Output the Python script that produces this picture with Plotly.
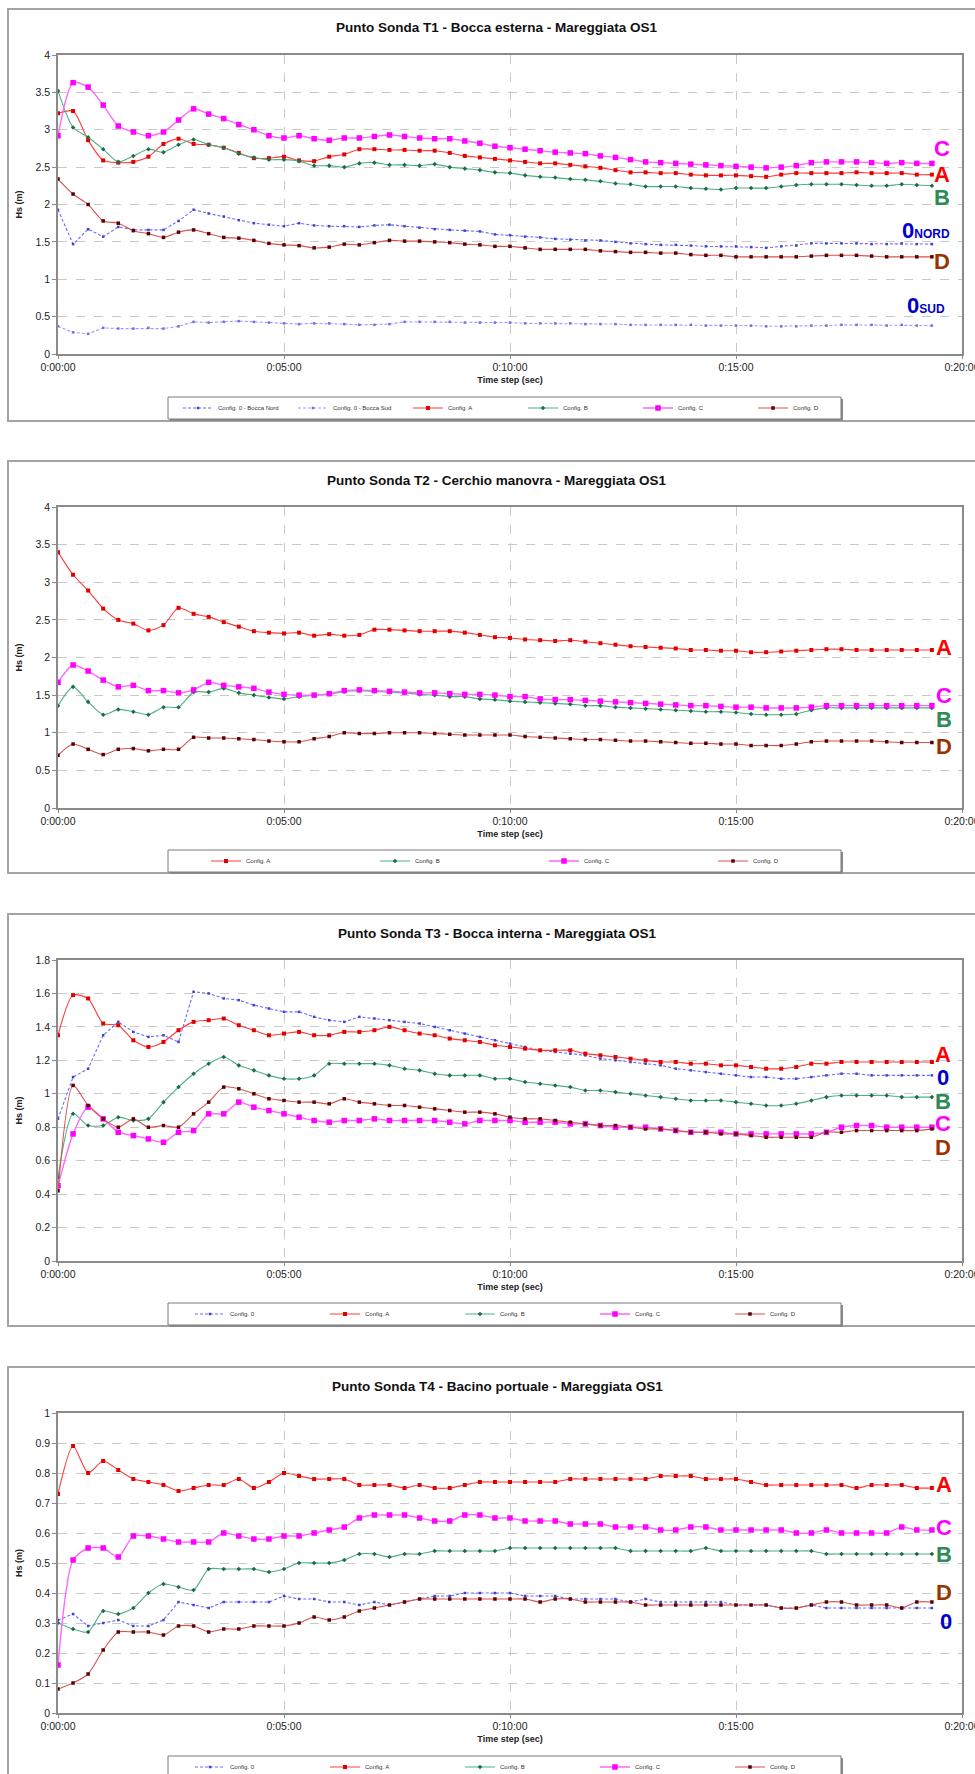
import plotly.graph_objects as go

W, H = 975, 1774

# Time steps (seconds), one sample every 20 s
time_s = list(range(0, 1180, 20))
x_tickvals = [0, 300, 600, 900, 1200]
x_ticktext = ["0:00:00", "0:05:00", "0:10:00", "0:15:00", "0:20:00"]

# ---- T1 - Bocca esterna ----
t1_0nord = [1.93, 1.47, 1.67, 1.57, 1.70, 1.66, 1.66, 1.66, 1.78, 1.93, 1.88, 1.84, 1.79, 1.75, 1.73, 1.71,
            1.75, 1.72, 1.71, 1.71, 1.70, 1.72, 1.73, 1.71, 1.69, 1.67, 1.66, 1.65, 1.64, 1.60, 1.59,
            1.57, 1.56, 1.54, 1.53, 1.52, 1.52, 1.50, 1.48, 1.47, 1.46, 1.46, 1.45, 1.44, 1.44, 1.44,
            1.43, 1.42, 1.44, 1.45, 1.48, 1.48, 1.48, 1.48, 1.47, 1.47, 1.48, 1.47, 1.47]
t1_0sud = [0.37, 0.29, 0.27, 0.35, 0.34, 0.34, 0.35, 0.34, 0.37, 0.43, 0.42, 0.43, 0.44, 0.43, 0.42, 0.41,
           0.40, 0.41, 0.41, 0.40, 0.39, 0.39, 0.40, 0.43, 0.43, 0.43, 0.43, 0.42, 0.42, 0.42, 0.42,
           0.41, 0.41, 0.41, 0.41, 0.40, 0.40, 0.40, 0.39, 0.39, 0.39, 0.39, 0.39, 0.38, 0.38, 0.38,
           0.38, 0.37, 0.37, 0.37, 0.38, 0.38, 0.39, 0.39, 0.39, 0.38, 0.39, 0.38, 0.38]
t1_A = [3.22, 3.25, 2.86, 2.59, 2.56, 2.57, 2.64, 2.81, 2.88, 2.81, 2.80, 2.76, 2.69, 2.62, 2.62, 2.64,
        2.59, 2.58, 2.64, 2.67, 2.74, 2.74, 2.73, 2.73, 2.72, 2.72, 2.69, 2.65, 2.63, 2.61, 2.59,
        2.57, 2.55, 2.55, 2.53, 2.51, 2.49, 2.46, 2.43, 2.43, 2.42, 2.42, 2.40, 2.39, 2.39, 2.39,
        2.38, 2.37, 2.40, 2.42, 2.42, 2.42, 2.42, 2.43, 2.42, 2.42, 2.42, 2.40, 2.40]
t1_B = [3.52, 3.03, 2.90, 2.74, 2.57, 2.65, 2.74, 2.70, 2.80, 2.87, 2.80, 2.76, 2.68, 2.63, 2.60, 2.60,
        2.58, 2.52, 2.52, 2.50, 2.55, 2.56, 2.53, 2.53, 2.52, 2.54, 2.50, 2.48, 2.46, 2.43, 2.42,
        2.39, 2.37, 2.36, 2.34, 2.33, 2.31, 2.28, 2.27, 2.24, 2.24, 2.24, 2.22, 2.21, 2.20, 2.22,
        2.22, 2.22, 2.24, 2.26, 2.27, 2.27, 2.27, 2.26, 2.25, 2.25, 2.27, 2.26, 2.25]
t1_C = [2.92, 3.63, 3.57, 3.33, 3.05, 2.97, 2.92, 2.97, 3.13, 3.28, 3.21, 3.15, 3.07, 3.00, 2.92, 2.89,
        2.92, 2.88, 2.86, 2.89, 2.89, 2.91, 2.93, 2.91, 2.89, 2.88, 2.88, 2.85, 2.82, 2.78, 2.76,
        2.74, 2.72, 2.70, 2.69, 2.68, 2.65, 2.63, 2.60, 2.57, 2.56, 2.55, 2.54, 2.53, 2.52, 2.51,
        2.50, 2.49, 2.50, 2.52, 2.56, 2.57, 2.57, 2.57, 2.56, 2.55, 2.56, 2.55, 2.55]
t1_D = [2.34, 2.14, 2.00, 1.78, 1.75, 1.65, 1.61, 1.56, 1.63, 1.66, 1.61, 1.56, 1.55, 1.52, 1.48, 1.46,
        1.45, 1.42, 1.43, 1.47, 1.46, 1.49, 1.52, 1.51, 1.51, 1.50, 1.49, 1.47, 1.46, 1.44, 1.44,
        1.42, 1.40, 1.40, 1.40, 1.40, 1.38, 1.37, 1.36, 1.36, 1.35, 1.35, 1.33, 1.32, 1.32, 1.30,
        1.30, 1.30, 1.30, 1.30, 1.31, 1.32, 1.32, 1.32, 1.31, 1.30, 1.30, 1.30, 1.30]

# ---- T2 - Cerchio manovra ----
t2_A = [3.40, 3.10, 2.89, 2.65, 2.50, 2.45, 2.36, 2.43, 2.66, 2.58, 2.54, 2.47, 2.41, 2.35, 2.33, 2.32,
        2.33, 2.29, 2.31, 2.29, 2.30, 2.37, 2.37, 2.36, 2.35, 2.35, 2.35, 2.33, 2.30, 2.27, 2.26,
        2.24, 2.23, 2.22, 2.23, 2.21, 2.19, 2.17, 2.15, 2.14, 2.13, 2.12, 2.10, 2.10, 2.09, 2.09,
        2.07, 2.07, 2.08, 2.09, 2.10, 2.11, 2.11, 2.10, 2.10, 2.10, 2.10, 2.10, 2.10]
t2_B = [1.36, 1.61, 1.41, 1.24, 1.31, 1.28, 1.24, 1.34, 1.34, 1.54, 1.54, 1.59, 1.53, 1.50, 1.47, 1.45,
        1.48, 1.50, 1.51, 1.55, 1.56, 1.55, 1.54, 1.53, 1.51, 1.50, 1.48, 1.48, 1.45, 1.44, 1.42,
        1.41, 1.40, 1.39, 1.38, 1.36, 1.36, 1.34, 1.33, 1.32, 1.31, 1.30, 1.29, 1.28, 1.28, 1.27,
        1.25, 1.24, 1.24, 1.25, 1.30, 1.33, 1.33, 1.33, 1.33, 1.33, 1.33, 1.33, 1.33]
t2_C = [1.67, 1.90, 1.82, 1.70, 1.61, 1.63, 1.56, 1.56, 1.53, 1.57, 1.67, 1.63, 1.61, 1.59, 1.54, 1.51,
        1.50, 1.50, 1.52, 1.56, 1.57, 1.56, 1.55, 1.54, 1.53, 1.53, 1.52, 1.51, 1.51, 1.50, 1.48,
        1.48, 1.45, 1.44, 1.44, 1.43, 1.42, 1.41, 1.40, 1.39, 1.38, 1.37, 1.36, 1.36, 1.35, 1.34,
        1.34, 1.33, 1.33, 1.33, 1.34, 1.36, 1.36, 1.36, 1.36, 1.36, 1.36, 1.36, 1.36]
t2_D = [0.70, 0.85, 0.78, 0.71, 0.78, 0.79, 0.76, 0.78, 0.78, 0.94, 0.93, 0.93, 0.92, 0.91, 0.89, 0.88,
        0.88, 0.92, 0.95, 1.00, 0.99, 0.99, 1.00, 1.00, 1.00, 0.99, 0.98, 0.97, 0.97, 0.97, 0.97,
        0.95, 0.94, 0.93, 0.92, 0.91, 0.91, 0.90, 0.89, 0.89, 0.88, 0.87, 0.86, 0.86, 0.85, 0.85,
        0.83, 0.83, 0.83, 0.85, 0.88, 0.89, 0.89, 0.89, 0.89, 0.88, 0.87, 0.87, 0.87]

# ---- T3 - Bocca interna ----
t3_0 = [0.85, 1.10, 1.15, 1.35, 1.43, 1.37, 1.34, 1.35, 1.31, 1.61, 1.60, 1.57, 1.56, 1.53, 1.51, 1.49,
        1.49, 1.46, 1.44, 1.43, 1.46, 1.45, 1.44, 1.43, 1.42, 1.40, 1.38, 1.36, 1.34, 1.32, 1.30,
        1.28, 1.26, 1.25, 1.24, 1.23, 1.21, 1.20, 1.19, 1.18, 1.17, 1.15, 1.14, 1.13, 1.12, 1.11,
        1.10, 1.10, 1.09, 1.09, 1.10, 1.11, 1.12, 1.12, 1.11, 1.11, 1.11, 1.11, 1.11]
t3_A = [1.35, 1.59, 1.57, 1.42, 1.41, 1.32, 1.28, 1.31, 1.38, 1.43, 1.44, 1.45, 1.41, 1.38, 1.35, 1.36,
        1.37, 1.35, 1.35, 1.37, 1.37, 1.38, 1.40, 1.38, 1.36, 1.35, 1.33, 1.32, 1.31, 1.29, 1.28,
        1.27, 1.26, 1.26, 1.26, 1.24, 1.23, 1.22, 1.21, 1.20, 1.19, 1.19, 1.18, 1.18, 1.17, 1.17,
        1.16, 1.15, 1.15, 1.16, 1.18, 1.18, 1.19, 1.19, 1.19, 1.19, 1.19, 1.19, 1.19]
t3_B = [0.50, 0.88, 0.81, 0.81, 0.86, 0.84, 0.85, 0.95, 1.04, 1.12, 1.18, 1.22, 1.17, 1.14, 1.11, 1.09,
        1.09, 1.11, 1.18, 1.18, 1.18, 1.18, 1.17, 1.15, 1.14, 1.12, 1.11, 1.11, 1.11, 1.09, 1.09,
        1.07, 1.06, 1.05, 1.04, 1.02, 1.02, 1.01, 1.00, 0.99, 0.98, 0.97, 0.96, 0.96, 0.96, 0.95,
        0.94, 0.93, 0.93, 0.94, 0.96, 0.98, 0.99, 0.99, 0.99, 0.99, 0.98, 0.98, 0.98]
t3_C = [0.45, 0.76, 0.92, 0.85, 0.77, 0.75, 0.73, 0.71, 0.77, 0.78, 0.88, 0.88, 0.95, 0.92, 0.90, 0.88,
        0.86, 0.84, 0.83, 0.84, 0.84, 0.85, 0.84, 0.84, 0.84, 0.84, 0.83, 0.82, 0.84, 0.84, 0.84,
        0.83, 0.83, 0.83, 0.82, 0.82, 0.81, 0.80, 0.80, 0.80, 0.79, 0.78, 0.77, 0.77, 0.77, 0.76,
        0.76, 0.76, 0.76, 0.76, 0.76, 0.77, 0.80, 0.81, 0.81, 0.80, 0.80, 0.80, 0.80]
t3_D = [0.42, 1.05, 0.93, 0.85, 0.80, 0.85, 0.80, 0.81, 0.80, 0.88, 0.95, 1.04, 1.03, 1.00, 0.97, 0.96,
        0.95, 0.95, 0.94, 0.97, 0.95, 0.94, 0.93, 0.93, 0.92, 0.91, 0.90, 0.89, 0.89, 0.88, 0.86,
        0.85, 0.85, 0.84, 0.83, 0.82, 0.81, 0.81, 0.80, 0.79, 0.79, 0.78, 0.77, 0.77, 0.76, 0.76,
        0.75, 0.74, 0.74, 0.74, 0.74, 0.77, 0.77, 0.78, 0.78, 0.78, 0.78, 0.78, 0.79]

# ---- T4 - Bacino portuale ----
t4_0 = [0.31, 0.33, 0.29, 0.30, 0.31, 0.29, 0.29, 0.31, 0.37, 0.36, 0.35, 0.37, 0.37, 0.37, 0.37, 0.39,
        0.38, 0.38, 0.37, 0.37, 0.36, 0.37, 0.36, 0.37, 0.38, 0.39, 0.39, 0.40, 0.40, 0.40, 0.40,
        0.39, 0.39, 0.39, 0.38, 0.38, 0.38, 0.38, 0.37, 0.38, 0.37, 0.37, 0.37, 0.37, 0.37, 0.36,
        0.36, 0.36, 0.35, 0.35, 0.36, 0.35, 0.35, 0.35, 0.35, 0.35, 0.35, 0.35, 0.35]
t4_A = [0.73, 0.89, 0.80, 0.84, 0.81, 0.78, 0.77, 0.76, 0.74, 0.75, 0.76, 0.76, 0.78, 0.75, 0.77, 0.80,
        0.79, 0.78, 0.78, 0.78, 0.76, 0.76, 0.76, 0.75, 0.76, 0.75, 0.75, 0.76, 0.77, 0.77, 0.77,
        0.77, 0.77, 0.77, 0.78, 0.78, 0.78, 0.78, 0.78, 0.78, 0.79, 0.79, 0.79, 0.78, 0.78, 0.78,
        0.77, 0.76, 0.76, 0.76, 0.76, 0.76, 0.76, 0.75, 0.76, 0.76, 0.76, 0.75, 0.75]
t4_B = [0.30, 0.28, 0.27, 0.34, 0.33, 0.35, 0.40, 0.43, 0.42, 0.41, 0.48, 0.48, 0.48, 0.48, 0.47, 0.48,
        0.50, 0.50, 0.50, 0.51, 0.53, 0.53, 0.52, 0.53, 0.53, 0.54, 0.54, 0.54, 0.54, 0.54, 0.55,
        0.55, 0.55, 0.55, 0.55, 0.55, 0.55, 0.55, 0.54, 0.54, 0.54, 0.54, 0.54, 0.55, 0.54, 0.54,
        0.54, 0.54, 0.54, 0.54, 0.54, 0.53, 0.53, 0.53, 0.53, 0.53, 0.53, 0.53, 0.53]
t4_C = [0.16, 0.51, 0.55, 0.55, 0.52, 0.59, 0.59, 0.58, 0.57, 0.57, 0.57, 0.60, 0.59, 0.58, 0.58, 0.59,
        0.59, 0.60, 0.61, 0.62, 0.65, 0.66, 0.66, 0.66, 0.65, 0.64, 0.64, 0.66, 0.66, 0.65, 0.65,
        0.64, 0.64, 0.64, 0.63, 0.63, 0.63, 0.62, 0.62, 0.62, 0.61, 0.61, 0.62, 0.62, 0.61, 0.61,
        0.61, 0.61, 0.61, 0.60, 0.60, 0.61, 0.60, 0.60, 0.60, 0.60, 0.62, 0.61, 0.61]
t4_D = [0.08, 0.10, 0.13, 0.21, 0.27, 0.27, 0.27, 0.26, 0.29, 0.29, 0.27, 0.28, 0.28, 0.29, 0.29, 0.29,
        0.30, 0.32, 0.31, 0.32, 0.34, 0.35, 0.36, 0.37, 0.38, 0.38, 0.38, 0.38, 0.38, 0.38, 0.38,
        0.38, 0.37, 0.38, 0.38, 0.37, 0.37, 0.37, 0.37, 0.36, 0.36, 0.36, 0.36, 0.36, 0.36, 0.36,
        0.36, 0.36, 0.35, 0.35, 0.36, 0.37, 0.37, 0.36, 0.36, 0.36, 0.35, 0.37, 0.37]

panel_titles = [
    "Punto Sonda T1 - Bocca esterna - Mareggiata OS1",
    "Punto Sonda T2 - Cerchio manovra - Mareggiata OS1",
    "Punto Sonda T3 - Bocca interna - Mareggiata OS1",
    "Punto Sonda T4 - Bacino portuale - Mareggiata OS1",
]
y_max = [4, 4, 1.8, 1]
y_dtick = [0.5, 0.5, 0.2, 0.1]

# (legend name, style key, values) for each panel, in legend order
panel_series = [
    [("Config. 0 - Bocca Nord", "0N", t1_0nord), ("Config. 0 - Bocca Sud", "0S", t1_0sud),
     ("Config. A", "A", t1_A), ("Config. B", "B", t1_B), ("Config. C", "C", t1_C), ("Config. D", "D", t1_D)],
    [("Config. A", "A", t2_A), ("Config. B", "B", t2_B), ("Config. C", "C", t2_C), ("Config. D", "D", t2_D)],
    [("Config. 0", "0N", t3_0), ("Config. A", "A", t3_A), ("Config. B", "B", t3_B),
     ("Config. C", "C", t3_C), ("Config. D", "D", t3_D)],
    [("Config. 0", "0N", t4_0), ("Config. A", "A", t4_A), ("Config. B", "B", t4_B),
     ("Config. C", "C", t4_C), ("Config. D", "D", t4_D)],
]

# Big end-of-line tags: (text, colour key, pixel x, pixel y)
tags = [
    [("C", "C", 942, 149), ("A", "A", 942, 174), ("B", "B", 942, 198),
     ("0<span style='font-size:12px'>NORD</span>", "0", 926, 230), ("D", "D", 942, 261),
     ("0<span style='font-size:12px'>SUD</span>", "0", 926, 305)],
    [("A", "A", 944, 647), ("C", "C", 944, 696), ("B", "B", 944, 719), ("D", "D", 944, 746)],
    [("A", "A", 943, 1054), ("0", "0", 943, 1077), ("B", "B", 943, 1101), ("C", "C", 943, 1123), ("D", "D", 943, 1147)],
    [("A", "A", 944, 1484), ("C", "C", 944, 1527), ("B", "B", 944, 1554), ("D", "D", 944, 1592), ("0", "0", 946, 1621)],
]
tag_colors = {"A": "#ff0000", "B": "#2e8b57", "C": "#ff00ff", "D": "#993300", "0": "#0000cc"}

STYLE = {
    "0N": dict(line=dict(color="#6a6aff", width=1.1, dash="3px,2px"),
               marker=dict(symbol="square", size=2.5, color="#4040c8"), shape="linear"),
    "0S": dict(line=dict(color="#9c9cff", width=1.1, dash="3px,2px"),
               marker=dict(symbol="square", size=2.5, color="#7070e0"), shape="linear"),
    "A": dict(line=dict(color="#ff3a3a", width=1.1),
              marker=dict(symbol="square", size=4, color="#e00000"), shape="spline"),
    "B": dict(line=dict(color="#4cb083", width=1.1),
              marker=dict(symbol="diamond", size=3.5, color="#1d6b44"), shape="spline"),
    "C": dict(line=dict(color="#ff66ff", width=1.4),
              marker=dict(symbol="square", size=5.5, color="#ff00ff"), shape="spline"),
    "D": dict(line=dict(color="#d45555", width=1.1),
              marker=dict(symbol="square", size=3.5, color="#5a0000"), shape="spline"),
}

# Pixel layout of the four panels
plot_left, plot_right = 58, 962
plot_top = [55, 507, 960, 1413]
plot_bottom = [354, 808, 1261, 1713]
title_y = [28, 480, 933, 1386]
box_top = [9, 461, 914, 1367]
box_bottom = [421, 873, 1326, 1790]
legend_cy = [408, 861, 1314, 1767]
legend_top = [397, 850, 1303, 1756]
legend_bottom = [419, 872, 1325, 1790]
legend_x = [178, 206, 190, 190]
legend_entry = [70, 124, 90, 90]

FONT = "Liberation Sans, Arial, sans-serif"


def px_x(v):
    return v / W


def px_y(v):
    return 1 - v / H


fig = go.Figure()
annotations = []
shapes = []
layout = dict(
    width=W, height=H, margin=dict(l=0, r=0, t=0, b=0, autoexpand=False),
    paper_bgcolor="white", plot_bgcolor="white",
    font=dict(family=FONT, color="#222222"),
    showlegend=True,
)

for p in range(4):
    n = p + 1
    xa = "x" if n == 1 else f"x{n}"
    ya = "y" if n == 1 else f"y{n}"
    leg = "legend" if n == 1 else f"legend{n}"

    for name, key, vals in panel_series[p]:
        st = STYLE[key]
        fig.add_trace(go.Scatter(
            x=time_s, y=vals, name=name, mode="lines+markers",
            line=dict(st["line"], shape=st["shape"], smoothing=0.7),
            marker=st["marker"], xaxis=xa, yaxis=ya, legend=leg,
            hoverinfo="x+y+name",
        ))

    layout["xaxis" if n == 1 else f"xaxis{n}"] = dict(
        domain=[px_x(plot_left), px_x(plot_right)], anchor=ya, automargin=False,
        range=[0, 1200], tickvals=x_tickvals, ticktext=x_ticktext,
        ticklabeloverflow="allow",
        showgrid=True, gridcolor="#c9c9c9", griddash="dash", gridwidth=1,
        showline=True, mirror=True, linecolor="#8a8a8a", linewidth=1.5,
        ticks="outside", ticklen=3, tickcolor="#8a8a8a",
        tickfont=dict(size=10.5, color="#222222"), zeroline=False,
        title=dict(text="Time step (sec)", standoff=4,
                   font=dict(size=9, weight="bold", color="#222222")),
    )
    layout["yaxis" if n == 1 else f"yaxis{n}"] = dict(
        domain=[px_y(plot_bottom[p]), px_y(plot_top[p])], anchor=xa, automargin=False,
        range=[0, y_max[p]], dtick=y_dtick[p], tick0=0,
        showgrid=True, gridcolor="#c9c9c9", griddash="dash", gridwidth=1,
        showline=True, mirror=True, linecolor="#8a8a8a", linewidth=1.5,
        ticks="outside", ticklen=4, tickcolor="#8a8a8a",
        tickfont=dict(size=10.5, color="#222222"), zeroline=False,
        title=dict(text="Hs (m)", standoff=11,
                   font=dict(size=9, weight="bold", color="#222222")),
    )
    layout[leg] = dict(
        orientation="h", x=px_x(legend_x[p]), xanchor="left",
        y=px_y(legend_cy[p]), yanchor="middle",
        font=dict(size=6, color="#333333", family=FONT),
        bgcolor="rgba(0,0,0,0)", borderwidth=0,
        entrywidth=legend_entry[p], entrywidthmode="pixels", itemwidth=30,
        itemclick=False, itemdoubleclick=False,
    )

    # panel frame
    shapes.append(dict(type="rect", xref="paper", yref="paper",
                       x0=px_x(8), x1=px_x(990), y0=px_y(box_bottom[p]), y1=px_y(box_top[p]),
                       line=dict(color="#a3a3a3", width=2), layer="below"))
    # legend frame with shadow
    shapes.append(dict(type="rect", xref="paper", yref="paper",
                       x0=px_x(170), x1=px_x(843), y0=px_y(legend_bottom[p] + 2), y1=px_y(legend_top[p] + 2),
                       line=dict(width=0), fillcolor="#8c8c8c", layer="below"))
    shapes.append(dict(type="rect", xref="paper", yref="paper",
                       x0=px_x(168), x1=px_x(841), y0=px_y(legend_bottom[p]), y1=px_y(legend_top[p]),
                       line=dict(color="#7a7a7a", width=1), fillcolor="white", layer="below"))

    annotations.append(dict(
        text=panel_titles[p], xref="paper", yref="paper", x=px_x(497), y=px_y(title_y[p]),
        xanchor="center", yanchor="middle", showarrow=False,
        font=dict(size=13.5, weight="bold", color="#111111", family=FONT),
    ))
    for text, ck, tx, ty in tags[p]:
        annotations.append(dict(
            text=text, xref="paper", yref="paper", x=px_x(tx), y=px_y(ty),
            xanchor="center", yanchor="middle", showarrow=False,
            font=dict(size=22, weight="bold", color=tag_colors[ck], family=FONT),
        ))

layout["annotations"] = annotations
layout["shapes"] = shapes
fig.update_layout(**layout)

fig.write_html("out.html")
